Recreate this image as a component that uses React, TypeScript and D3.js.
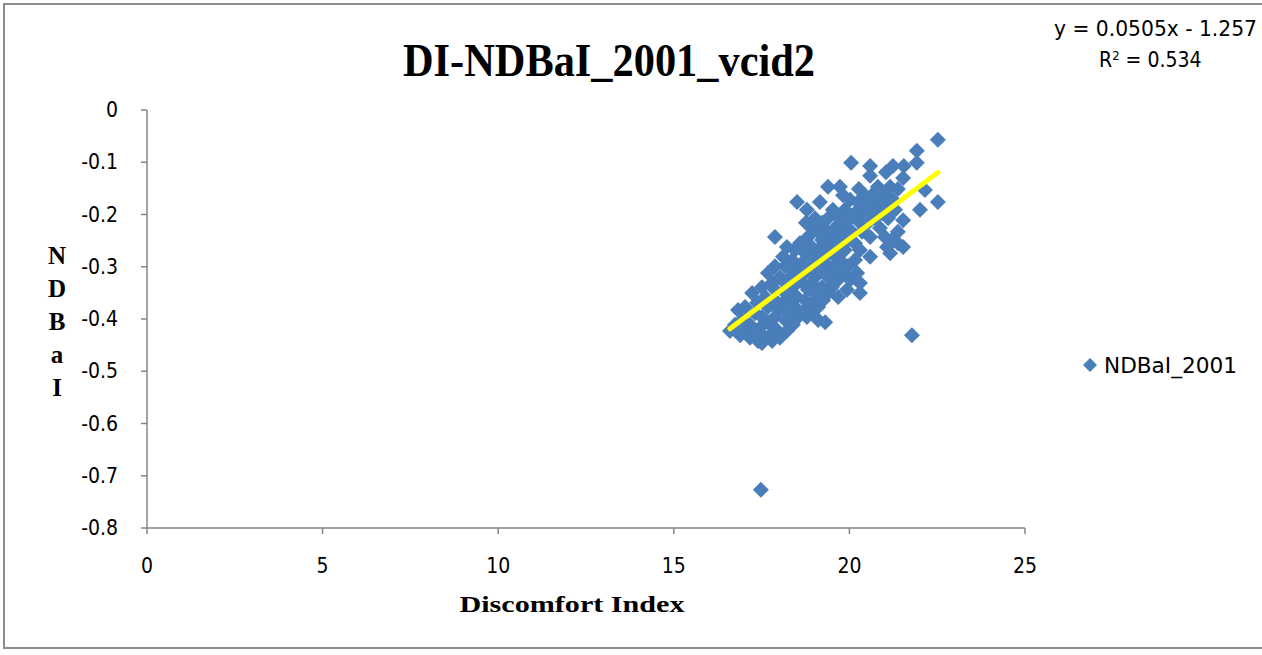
import React from "react";
import * as d3 from "d3";

// NDBaI against Discomfort Index, one row per NDBaI level: [ndbai, [discomfort index values]]
const ndbaiRows: [number, number[]][] = [
  [-0.057, [22.52]],
  [-0.078, [21.92]],
  [-0.101, [20.05, 21.92]],
  [-0.107, [20.59, 21.24, 21.55]],
  [-0.119, [21.04]],
  [-0.126, [20.59]],
  [-0.13, [21.53]],
  [-0.147, [19.39, 19.73, 20.81, 21.16]],
  [-0.151, [20.27, 21.38]],
  [-0.153, [22.15]],
  [-0.163, [19.82, 20.44, 20.64, 21.01]],
  [-0.172, [20.02, 20.87, 21.24]],
  [-0.176, [18.51, 19.16, 20.24, 22.52]],
  [-0.182, [20.47, 21.1, 20.76]],
  [-0.191, [18.79, 19.53, 22.01, 19.87, 20.59, 21.3]],
  [-0.197, [20.16, 20.36, 20.93]],
  [-0.207, [19.02, 19.39, 19.73, 20.02, 20.73, 21.1]],
  [-0.211, [21.53]],
  [-0.216, [18.76, 19.22, 20.3, 20.53]],
  [-0.226, [18.93, 19.59, 19.87, 20.87]],
  [-0.233, [19.11, 19.36, 20.07, 20.36, 21.38]],
  [-0.243, [17.88, 18.82, 19.73, 20.59, 21.01]],
  [-0.249, [19.22, 19.5, 19.96, 21.21]],
  [-0.255, [18.59, 20.16, 21.38]],
  [-0.262, [18.22, 18.93, 19.39, 19.68, 21.07, 21.53]],
  [-0.268, [18.45, 19.11, 19.87, 20.3]],
  [-0.274, [18.74, 19.5, 21.16]],
  [-0.281, [18.11, 18.93, 19.31, 20.59]],
  [-0.287, [18.37, 19.73, 20.16]],
  [-0.293, [18.65, 19.11, 19.65]],
  [-0.299, [17.88, 18.17, 18.88, 19.39, 19.96]],
  [-0.306, [18.45, 19.16, 19.53]],
  [-0.312, [17.68, 18.74, 19.82, 20.22]],
  [-0.32, [18.02, 18.31, 19.02, 19.39]],
  [-0.325, [18.54, 19.68, 20.02]],
  [-0.331, [17.8, 18.17, 18.68, 18.93, 20.3]],
  [-0.339, [17.51, 18.39, 19.22, 19.5]],
  [-0.344, [17.88, 18.82, 19.93]],
  [-0.35, [17.23, 18.17, 19.02, 19.39, 20.3]],
  [-0.358, [17.6, 18.51, 19.68]],
  [-0.364, [17.88, 18.31, 18.74, 19.25]],
  [-0.369, [17.37, 18.11, 18.93]],
  [-0.377, [17.03, 17.68, 18.45, 19.11]],
  [-0.383, [16.83, 17.97, 18.74]],
  [-0.389, [17.31, 18.25, 18.93]],
  [-0.396, [17.51, 17.88, 18.54, 18.79]],
  [-0.402, [16.94, 18.17, 19.11]],
  [-0.406, [17.68, 19.31]],
  [-0.411, [16.74, 17.17, 18.39]],
  [-0.417, [17.45, 17.88]],
  [-0.423, [16.6, 17.03, 18.22]],
  [-0.431, [16.89, 17.31, 17.74, 21.78]],
  [-0.436, [17.17, 17.6, 18.02]],
  [-0.442, [17.4, 17.8]],
  [-0.446, [17.51]],
  [-0.727, [17.48]],
];

const xTicks = [0, 5, 10, 15, 20, 25];
const yTicks = [0, -0.1, -0.2, -0.3, -0.4, -0.5, -0.6, -0.7, -0.8];

// Linear trend line reported for the series
const slope = 0.0505;
const intercept = -1.257;
const rSquared = 0.534;

const titleText = "DI-NDBaI_2001_vcid2";
const xTitle = "Discomfort Index";
const yTitleLetters = ["N", "D", "B", "a", "I"];
const seriesName = "NDBaI_2001";

const W = 1262;
const H = 655;
const plot = { left: 147, right: 1025, top: 110, bottom: 528 };

const sansFont = "'Liberation Sans Narrow', 'DejaVu Sans Condensed', 'Liberation Sans', Arial, sans-serif";
const serifFont = "'Liberation Serif', 'Times New Roman', serif";
const axisColor = "#868686";
const markerColor = "#4a7ebb";

function diamond(cx: number, cy: number, r: number) {
  return `M${cx},${cy - r}L${cx + r},${cy}L${cx},${cy + r}L${cx - r},${cy}Z`;
}

export default function App() {
  const x = d3.scaleLinear().domain([0, 25]).range([plot.left, plot.right]);
  const y = d3.scaleLinear().domain([-0.8, 0]).range([plot.bottom, plot.top]);

  const points = ndbaiRows.flatMap(([v, xs]) => xs.map((d) => ({ di: d, v })));
  const [minX, maxX] = d3.extent(points, (p) => p.di) as [number, number];
  const trend = d3
    .line<number>()
    .x((d) => x(d))
    .y((d) => y(slope * d + intercept))([minX, maxX]);

  return (
    <svg
      width={W}
      height={H}
      style={{ position: "absolute", left: 0, top: 0, background: "#fff" }}
    >
      {/* chart frame */}
      <rect x={4} y={4} width={W + 10} height={644} fill="#fff" stroke="#8c8c8c" strokeWidth={2} />

      {/* title */}
      <text
        x={609}
        y={76}
        textAnchor="middle"
        fontFamily={serifFont}
        fontWeight="bold"
        fontSize={46}
        textLength={412}
        lengthAdjust="spacingAndGlyphs"
        fill="#000"
      >
        {titleText}
      </text>

      {/* axes */}
      <g stroke={axisColor} strokeWidth={1.5} fill="none">
        <line x1={plot.left} y1={plot.top} x2={plot.left} y2={plot.bottom} />
        <line x1={plot.left} y1={plot.bottom} x2={plot.right} y2={plot.bottom} />
        {yTicks.map((t) => (
          <line key={`yt${t}`} x1={plot.left - 6} x2={plot.left} y1={y(t)} y2={y(t)} />
        ))}
        {xTicks.map((t) => (
          <line key={`xt${t}`} x1={x(t)} x2={x(t)} y1={plot.bottom} y2={plot.bottom + 6} />
        ))}
      </g>

      {/* tick labels */}
      <g fontFamily={sansFont} fontSize={21} fill="#000">
        {yTicks.map((t) => (
          <text key={`yl${t}`} x={118} y={y(t) + 7} textAnchor="end">
            {t === 0 ? "0" : d3.format(".1f")(t).replace("−", "-")}
          </text>
        ))}
        {xTicks.map((t) => (
          <text key={`xl${t}`} x={x(t)} y={573} textAnchor="middle">
            {t}
          </text>
        ))}
      </g>

      {/* axis titles */}
      <text
        x={572}
        y={612}
        textAnchor="middle"
        fontFamily={serifFont}
        fontWeight="bold"
        fontSize={24}
        textLength={225}
        lengthAdjust="spacingAndGlyphs"
      >
        {xTitle}
      </text>
      <g fontFamily={serifFont} fontWeight="bold" fontSize={25} textAnchor="middle">
        {yTitleLetters.map((ch, i) => (
          <text key={`yt-${i}`} x={57} y={264 + i * 33}>
            {ch}
          </text>
        ))}
      </g>

      {/* points */}
      <g fill={markerColor}>
        {points.map((p, i) => (
          <path key={i} d={diamond(x(p.di), y(p.v), 8)} />
        ))}
      </g>

      {/* linear trend line */}
      <path d={trend ?? ""} stroke="#ffff00" strokeWidth={5} strokeLinecap="round" fill="none" />

      {/* trend equation */}
      <g fontFamily={sansFont} fontSize={21} fill="#000">
        <text x={1054} y={36} textLength={203} lengthAdjust="spacingAndGlyphs">
          {`y = ${slope}x - ${Math.abs(intercept)}`}
        </text>
        <text x={1099} y={67}>
          R<tspan dy={-7} fontSize={13}>2</tspan>
          <tspan dy={7}>{` = ${rSquared}`}</tspan>
        </text>
      </g>

      {/* legend */}
      <path d={diamond(1090, 365, 7)} fill={markerColor} />
      <text
        x={1104}
        y={373}
        fontFamily={sansFont}
        fontSize={21}
        fill="#000"
        textLength={133}
        lengthAdjust="spacingAndGlyphs"
      >
        {seriesName}
      </text>
    </svg>
  );
}
